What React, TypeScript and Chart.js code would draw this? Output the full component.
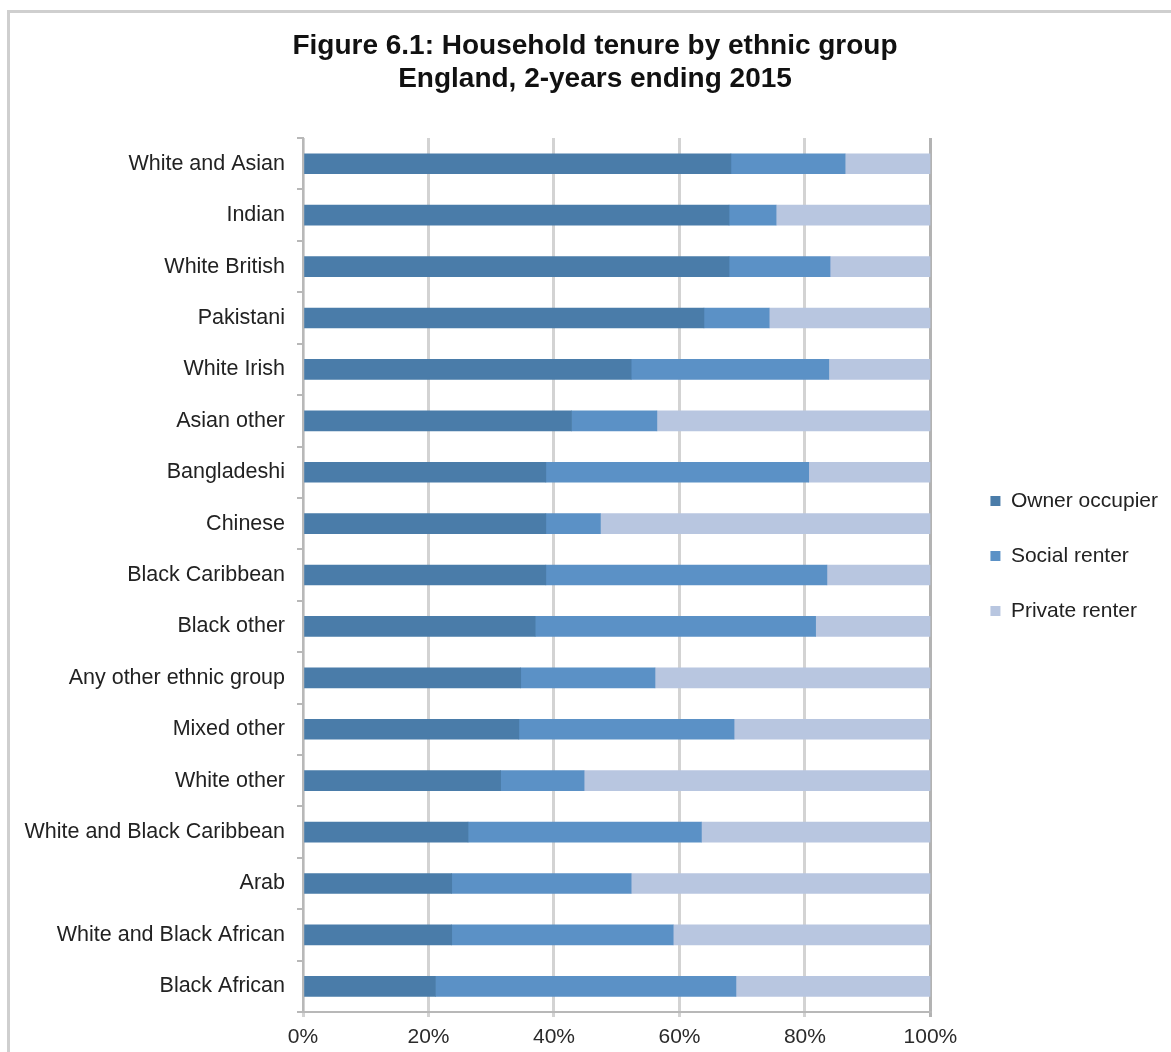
import React, { useEffect, useRef } from "react";
import { Chart, registerables } from "chart.js";

Chart.register(...registerables);

const categories = [
  "White and Asian",
  "Indian",
  "White British",
  "Pakistani",
  "White Irish",
  "Asian other",
  "Bangladeshi",
  "Chinese",
  "Black Caribbean",
  "Black other",
  "Any other ethnic group",
  "Mixed other",
  "White other",
  "White and Black Caribbean",
  "Arab",
  "White and Black African",
  "Black African",
];

const ownerOccupier = [68.2, 67.9, 67.9, 63.9, 52.3, 42.8, 38.7, 38.7, 38.7, 37.0, 34.7, 34.4, 31.5, 26.3, 23.7, 23.7, 21.1];
const socialRenter = [18.2, 7.5, 16.1, 10.4, 31.5, 13.6, 41.9, 8.7, 44.8, 44.7, 21.4, 34.3, 13.3, 37.2, 28.6, 35.3, 47.9];
const privateRenter = [13.6, 24.6, 16.0, 25.7, 16.2, 43.6, 19.4, 52.6, 16.5, 18.3, 43.9, 31.3, 55.2, 36.5, 47.7, 41.0, 31.0];

const seriesNames = ["Owner occupier", "Social renter", "Private renter"];
const seriesColors = ["#4a7ca9", "#5b91c6", "#b8c6e0"];
const xTicks = [0, 20, 40, 60, 80, 100];
const titleLines = ["Figure 6.1: Household tenure by ethnic group", "England, 2-years ending 2015"];

const FONT = "'Liberation Sans', Arial, Helvetica, sans-serif";

const framePlugin = {
  id: "frame",
  beforeDraw(chart: any) {
    const { ctx, width, height } = chart;
    ctx.save();
    ctx.fillStyle = "#ffffff";
    ctx.fillRect(0, 0, width, height);
    ctx.fillStyle = "#cfcfcf";
    ctx.fillRect(7, 10, width - 7, 3);
    ctx.fillRect(7, 10, 3, height - 10);
    ctx.restore();
  },
};

export default function App() {
  const ref = useRef<HTMLCanvasElement>(null);

  useEffect(() => {
    if (!ref.current) return;
    const data = [ownerOccupier, socialRenter, privateRenter];
    const chart = new Chart(ref.current, {
      type: "bar",
      data: {
        labels: categories,
        datasets: seriesNames.map((name, i) => ({
          label: name,
          data: data[i],
          backgroundColor: seriesColors[i],
          borderWidth: 0,
          barThickness: 20,
        })),
      },
      options: {
        indexAxis: "y",
        animation: false,
        responsive: false,
        layout: { padding: { left: 22, right: 3, top: 0, bottom: 0 } },
        plugins: {
          title: {
            display: true,
            text: titleLines,
            color: "#111111",
            font: { family: FONT, size: 28, weight: "bold", lineHeight: 1.18 },
            padding: { top: 30, bottom: 42 },
          },
          legend: {
            display: true,
            position: "right",
            maxWidth: 260,
            title: {
              display: true,
              text: " ",
              font: { family: FONT, size: 20, lineHeight: 1.2 },
              padding: { top: 36, bottom: 0 },
            },
            labels: {
              boxWidth: 10,
              boxHeight: 10,
              padding: 34,
              color: "#222222",
              font: { family: FONT, size: 21 },
            },
          },
          tooltip: { enabled: false },
        },
        scales: {
          x: {
            stacked: true,
            min: 0,
            max: 100,
            ticks: {
              stepSize: 20,
              color: "#2a2a2a",
              padding: 8,
              font: { family: FONT, size: 21 },
              callback: (v: any) => (xTicks.includes(Number(v)) ? v + "%" : ""),
            },
            grid: {
              color: (c: any) => (c.index === xTicks.length - 1 ? "#b3b3b3" : "#d3d3d3"),
              lineWidth: 3,
              tickLength: 5,
            },
            border: { display: true, color: "#b8b8b8", width: 2 },
            afterFit: (s: any) => {
              s.height = 40;
            },
          },
          y: {
            stacked: true,
            ticks: {
              color: "#222222",
              padding: 12,
              font: { family: FONT, size: 21.5 },
            },
            grid: {
              drawOnChartArea: false,
              color: "#b8b8b8",
              lineWidth: 2,
              tickLength: 6,
            },
            border: { display: true, color: "#b8b8b8", width: 2 },
            afterFit: (s: any) => {
              s.width = 281;
            },
          },
          pad: {
            type: "linear",
            position: "right",
            display: true,
            grid: { display: false },
            border: { display: false },
            ticks: { display: false },
            afterFit: (s: any) => {
              s.width = 26;
            },
          },
        },
      } as any,
      plugins: [framePlugin],
    });
    return () => chart.destroy();
  }, []);

  return (
    <div style={{ position: "fixed", left: 0, top: 0, width: 1171, height: 1052, background: "#fff" }}>
      <canvas ref={ref} width={1171} height={1052} style={{ display: "block" }} />
    </div>
  );
}
